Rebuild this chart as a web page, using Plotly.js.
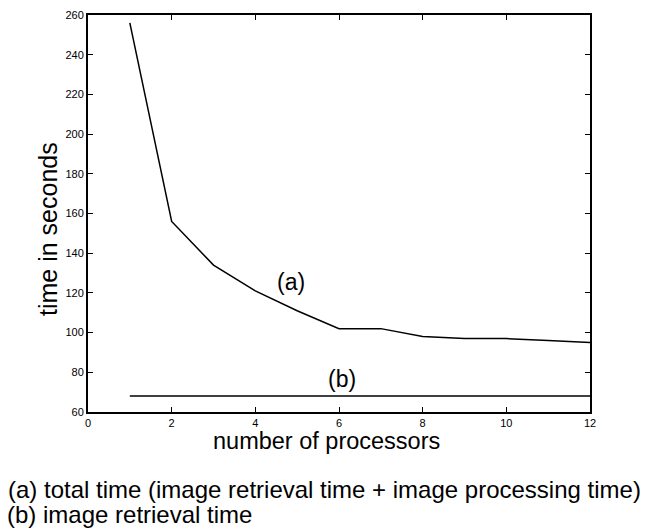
<!DOCTYPE html>
<html><head><meta charset="utf-8">
<script src="https://cdn.plot.ly/plotly-3.0.1.min.js"></script>
<style>body{margin:0;padding:0;background:#fff}#chart{width:646px;height:529px}</style>
</head><body><div id="chart"></div>
<script>
const processors = [1,2,3,4,5,6,7,8,9,10,11,12];
const totalTime = [256,156,134,121,111,102,102,98,97,97,96,95];
const retrievalTime = [68,68,68,68,68,68,68,68,68,68,68,68];
const xTicks = [0,2,4,6,8,10,12];
const yTicks = [60,80,100,120,140,160,180,200,220,240,260];

const font = 'Liberation Sans, Arial, sans-serif';
const traces = [
  {x: processors, y: totalTime, mode:'lines', line:{color:'#000', width:1.5}, hoverinfo:'skip'},
  {x: processors, y: retrievalTime, mode:'lines', line:{color:'#000', width:1.5}, hoverinfo:'skip'}
];
const axisCommon = {showline:true, mirror:'ticks', linecolor:'#000', linewidth:2,
  ticks:'inside', ticklen:5, tickwidth:1, tickcolor:'#000', showgrid:false, zeroline:false,
  tickfont:{family:font, size:11, color:'#000'}};
const L = 88, R = 56, T = 15, B = 117, W = 646, H = 529;
const pw = W-L-R, ph = H-T-B;
const px = p => (p-L)/pw;
const py = p => (H-B-p)/ph;
const layout = {
  width:W, height:H, paper_bgcolor:'#fff', plot_bgcolor:'#fff',
  margin:{l:L, r:R, t:T, b:B},
  showlegend:false,
  xaxis: Object.assign({}, axisCommon, {range:[0,12], tickvals:xTicks, ticktext:xTicks.map(String)}),
  yaxis: Object.assign({}, axisCommon, {range:[60,260], tickvals:yTicks, ticktext:yTicks.map(String)}),
  annotations:[
    {x:4.85, y:125.3, xref:'x', yref:'y', text:'(a)', showarrow:false, font:{family:font, size:23, color:'#000'}},
    {x:6.08, y:76.5, xref:'x', yref:'y', text:'(b)', showarrow:false, font:{family:font, size:23, color:'#000'}},
    {x:px(326), y:py(441), xref:'paper', yref:'paper', xanchor:'center', yanchor:'middle', text:'number of processors', showarrow:false, font:{family:font, size:23.5, color:'#000'}},
    {x:px(48), y:py(229), xref:'paper', yref:'paper', xanchor:'center', yanchor:'middle', textangle:-90, text:'time in seconds', showarrow:false, font:{family:font, size:25, color:'#000'}},
    {x:px(6), y:py(489), xref:'paper', yref:'paper', xanchor:'left', yanchor:'middle', text:'(a) total time (image retrieval time + image processing time)', showarrow:false, font:{family:font, size:24, color:'#000'}},
    {x:px(5), y:py(514), xref:'paper', yref:'paper', xanchor:'left', yanchor:'middle', text:'(b) image retrieval time', showarrow:false, font:{family:font, size:24, color:'#000'}}
  ]
};
Plotly.newPlot('chart', traces, layout, {staticPlot:true});
</script></body></html>
